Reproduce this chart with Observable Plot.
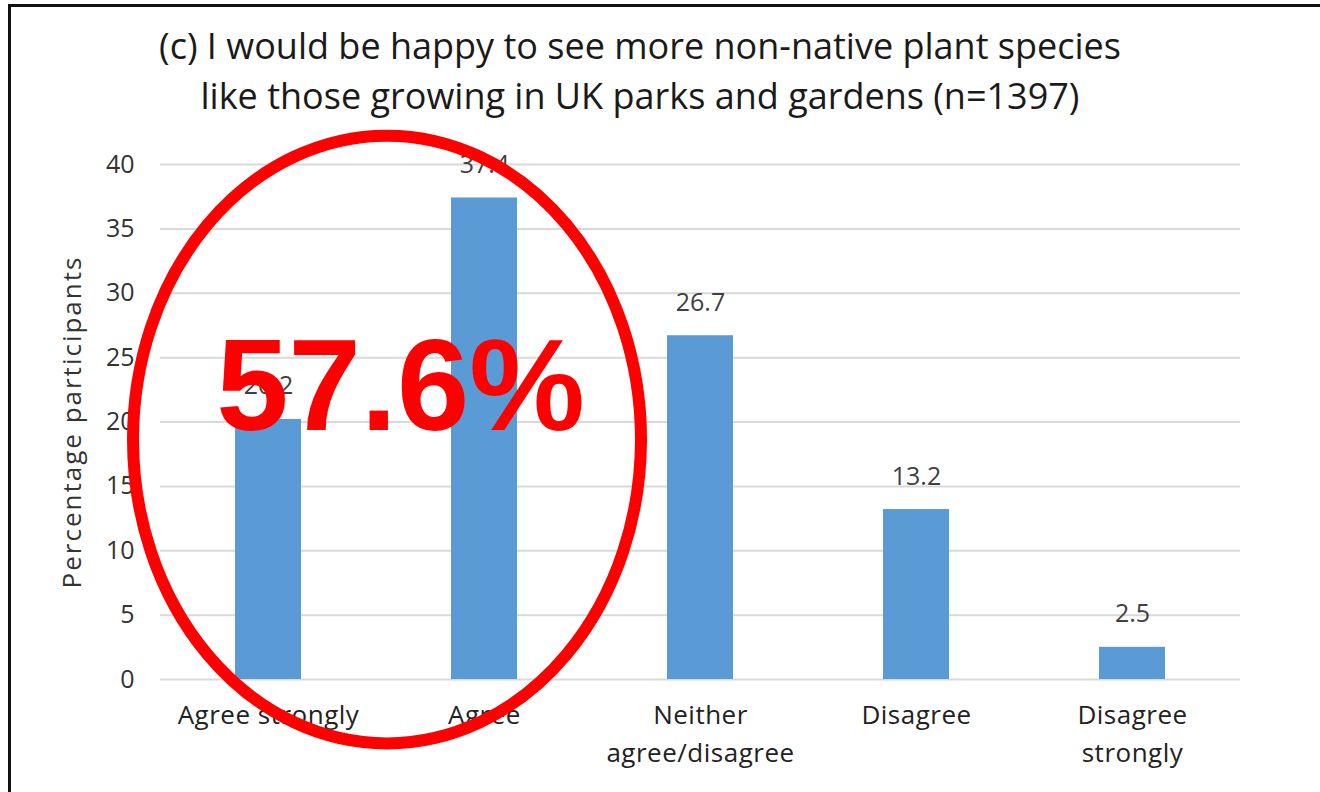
<!DOCTYPE html>
<html>
<head>
<meta charset="utf-8">
<script src="https://cdn.jsdelivr.net/npm/d3@7"></script>
<script src="https://cdn.jsdelivr.net/npm/@observablehq/plot@0.6"></script>
<style>
  body { margin: 0; background: #fff; }
  #wrap { position: relative; width: 1320px; height: 792px; overflow: hidden; font-family: "Open Sans", sans-serif; }
  #frame { position: absolute; left: 8px; top: 4px; right: -10px; bottom: -10px;
           border-top: 3px solid #111; border-left: 3px solid #111; }
  #title { position: absolute; left: 0; top: 21px; width: 1280px; text-align: center;
           font-size: 36px; line-height: 50px; color: #1a1a1a; }
  #chart { position: absolute; left: 0; top: 0; }
</style>
</head>
<body>
<div id="wrap">
  <div id="frame"></div>
  <div id="chart"></div>
  <div id="title">(c) I would be happy to see more non-native plant species<br>like those growing in UK parks and gardens (n=1397)</div>
</div>
<script>
// Survey responses (% of participants)
const categories = ["Agree strongly", "Agree", "Neither agree/disagree", "Disagree", "Disagree strongly"];
const tickLabels = ["Agree strongly", "Agree", "Neither\nagree/disagree", "Disagree", "Disagree\nstrongly"];
const percentages = [20.2, 37.4, 26.7, 13.2, 2.5];
const yTicks = [0, 5, 10, 15, 20, 25, 30, 35, 40];
const yLabel = "Percentage participants";

// Combined share of the two "agree" answers, highlighted on the chart
const agreeShare = percentages[0] + percentages[1];

const rows = categories.map((category, i) => ({category, value: percentages[i]}));

// Red ellipse circling the two "agree" bars
function agreeRing(index, scales) {
  const {x, y} = scales;
  const bw = typeof x.bandwidth === "function" ? x.bandwidth() : (x.bandwidth ?? 0);
  const cx = (x(categories[0]) + x(categories[1])) / 2 + bw / 2 + 11;
  const cy = y(18.6);
  const ry = y(0) - y(23.6);
  return d3.create("svg:ellipse")
    .attr("cx", cx).attr("cy", cy)
    .attr("rx", 254).attr("ry", ry)
    .attr("fill", "none")
    .attr("stroke", "#ff0000")
    .attr("stroke-width", 12)
    .node();
}

const chart = Plot.plot({
  width: 1320,
  height: 792,
  marginTop: 164,
  marginBottom: 113,
  marginLeft: 160,
  marginRight: 80,
  style: {fontFamily: "Open Sans, sans-serif", background: "transparent", overflow: "visible"},
  x: {domain: categories, paddingInner: 0.694, paddingOuter: 0.347, axis: null},
  y: {domain: [0, 40], axis: null},
  marks: [
    Plot.ruleY(yTicks, {stroke: "#d9d9d9", strokeWidth: 2}),
    Plot.axisY({ticks: yTicks, tickSize: 0, tickPadding: 26, fontSize: 25, color: "#333", label: null}),
    Plot.text([yLabel], {
      frameAnchor: "left", dx: -88, rotate: -90, fontSize: 26, fill: "#333", textAnchor: "middle"
    }),
    Plot.axisX({
      tickSize: 0, tickPadding: 18, fontSize: 26, color: "#222", lineHeight: 1.46, label: null,
      tickFormat: (d) => tickLabels[categories.indexOf(d)]
    }),
    Plot.barY(rows, {x: "category", y: "value", fill: "#5b9bd5"}),
    Plot.text(rows, {
      x: "category", y: "value", text: (d) => d.value.toFixed(1),
      dy: -33, fontSize: 25, fill: "#404040"
    }),
    agreeRing,
    Plot.text([agreeShare], {
      x: () => categories[0], y: () => 22.6, dx: 132,
      text: (d) => d.toFixed(1) + "%",
      fontFamily: "Liberation Sans, Arial, sans-serif", fontWeight: "bold",
      fontSize: 130, fill: "#ff0000", textAnchor: "middle"
    })
  ]
});

// Slightly open letter spacing on the axis title and category labels
d3.select(chart).selectAll("text")
  .filter(function () { return this.textContent === yLabel; })
  .style("letter-spacing", "2px");
d3.select(chart).selectAll("g[aria-label='x-axis tick label'] text")
  .style("letter-spacing", "0.5px");

document.getElementById("chart").append(chart);
</script>
</body>
</html>
